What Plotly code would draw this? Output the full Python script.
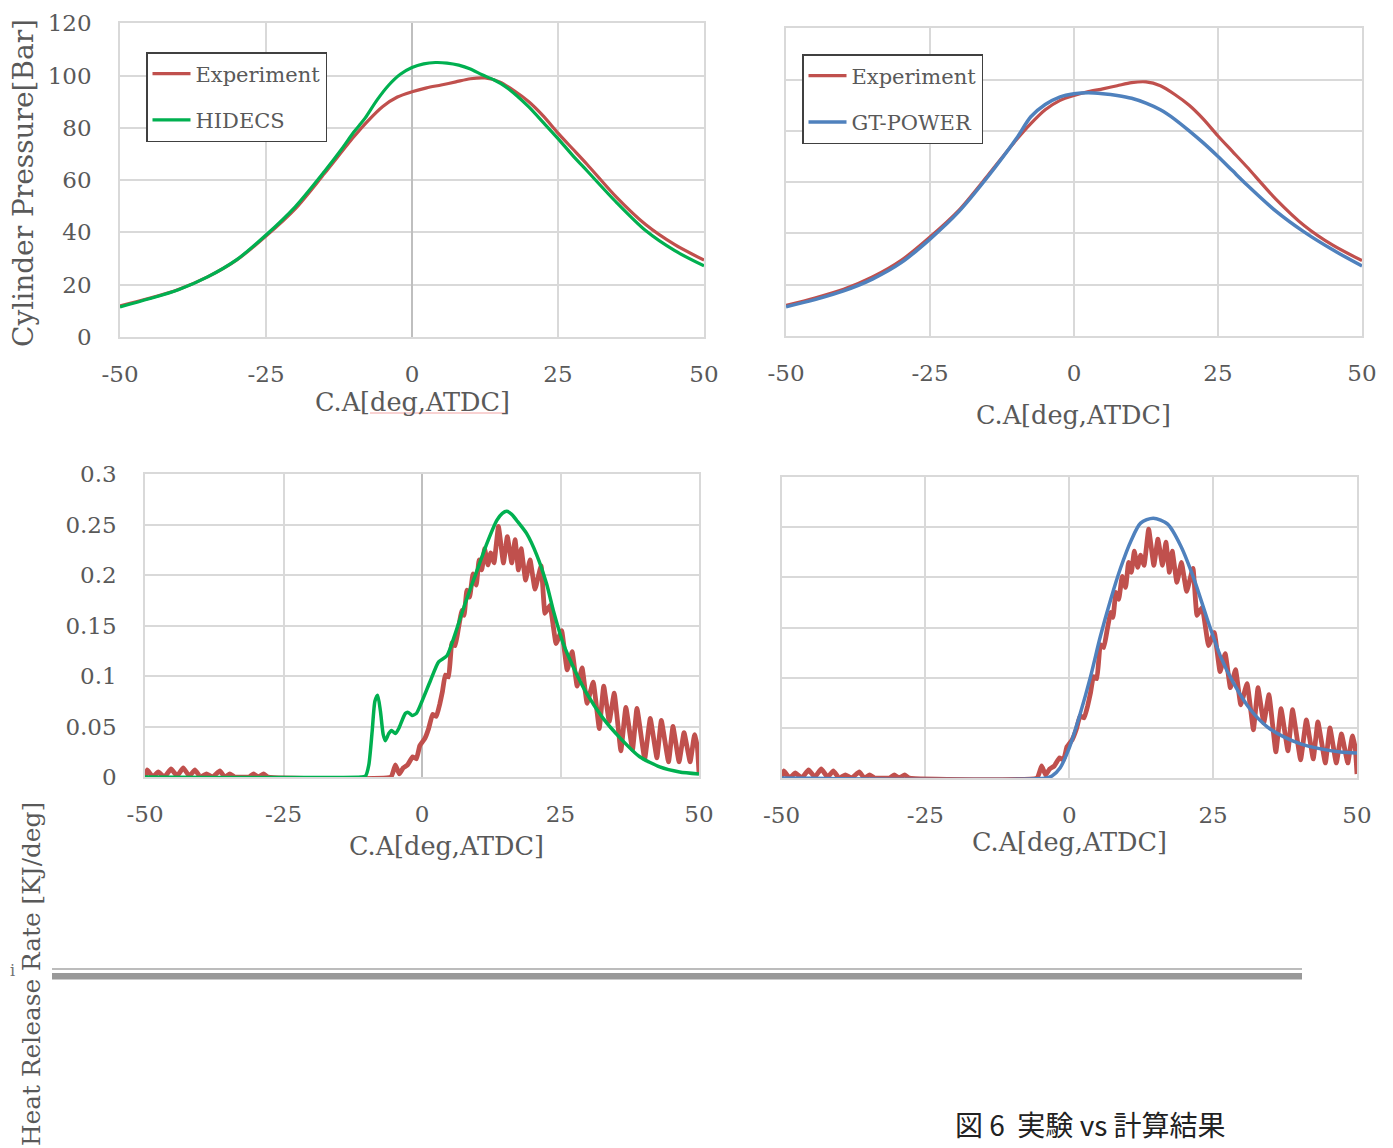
import plotly.graph_objects as go

# page body has an 8px margin: the figure is drawn at (8, 8) on screen
OFF = 8
W, H = 1393 - OFF, 1148 - OFF

# ---------------- data ----------------
ca_ticks = [-50, -25, 0, 25, 50]
ca_tick_text = ["-50", "-25", "0", "25", "50"]

# Cylinder pressure [bar]
p_exp_ca = [-50, -45, -40, -35, -30, -25, -20, -15, -10, -7.5, -5, -2.5, 0, 2.5, 5, 7.5,
            10, 12.5, 15, 17.5, 20, 22.5, 25, 27.5, 30, 35, 40, 45, 50]
p_exp = [11.9, 14.8, 18.2, 23.0, 29.5, 38.6, 49.0, 62.5, 76.5, 82.8, 88.2, 91.8, 93.8, 95.3, 96.4, 97.6,
         98.8, 99.1, 97.6, 94.2, 90.0, 84.5, 78.0, 72.0, 66.0, 53.5, 43.0, 35.3, 29.4]

p_hidecs_ca = [-50, -45, -40, -35, -30, -25, -20, -15, -12, -10, -9, -8, -6, -4, -2, 0, 2, 4, 6, 8,
               10, 12, 14, 16, 18, 20, 22.5, 25, 27.5, 30, 35, 40, 45, 50]
p_hidecs = [11.5, 14.6, 18.1, 23.0, 29.6, 39.0, 49.8, 63.3, 72.0, 78.3, 81.0, 83.8, 90.6, 96.3, 100.5, 103.1,
            104.5, 105.0, 104.8, 104.0, 102.5, 100.3, 98.4, 95.8, 92.2, 88.0, 82.0, 75.9, 69.5, 63.5,
            51.5, 40.7, 33.0, 27.2]

p_gt_ca = [-50, -45, -40, -35, -30, -25, -20, -15, -10, -7.5, -5, -2.5, 0, 2.5, 5, 7.5,
           10, 12.5, 15, 17.5, 20, 22.5, 25, 27.5, 30, 35, 40, 45, 50]
p_gt = [11.4, 14.2, 17.6, 22.2, 28.6, 37.8, 48.5, 62.0, 77.0, 85.5, 90.3, 93.2, 94.5, 94.9, 94.5, 93.8,
        92.7, 90.8, 88.2, 84.5, 80.0, 75.2, 70.0, 64.5, 59.0, 48.8, 40.5, 33.5, 27.3]

# Heat release rate [kJ/deg]
hrr_exp_ca = [-50, -49.6, -48.6, -47.6, -46.5, -45.3, -44.2, -43.1, -42.0, -41.0, -40.0, -38.9, -37.8,
              -36.5, -35.6, -34.7, -33.8, -31.2, -30.4, -29.6, -28.6, -27.8, -5.6, -4.8, -4.1, -3.4,
              -2.6, -1.7, -1.0, -0.4, 0.5, 1.2, 1.9, 2.6, 3.2, 3.7, 4.2, 4.8, 5.4, 6.0, 6.6, 7.2, 7.6,
              8.1, 8.6, 9.2, 9.8, 10.3, 10.8, 11.3, 11.9, 12.4, 13.0, 13.8, 14.7, 15.4, 16.2, 16.8,
              17.4, 17.9, 18.7, 19.5, 20.4, 21.5, 22.2, 23.1, 24.2, 25.2, 26.2, 27.1, 28.0, 28.9,
              29.8, 30.9, 32.0, 32.8, 33.8, 34.7, 35.9, 36.8, 38.0, 38.8, 40.2, 41.2, 42.4, 43.2,
              44.5, 45.3, 46.4, 47.3, 48.4, 49.2, 49.7, 50.0]
hrr_exp = [0.0, 0.007, 0.0, 0.005, 0.0, 0.008, 0.001, 0.009, 0.001, 0.007, 0.0, 0.003, 0.0,
           0.006, 0.0, 0.003, 0.0, 0.0, 0.003, 0.0, 0.003, 0.0, 0.0, 0.012, 0.003, 0.009,
           0.012, 0.020, 0.018, 0.031, 0.038, 0.048, 0.062, 0.060, 0.072, 0.085, 0.101, 0.099, 0.133,
           0.130, 0.148, 0.165, 0.160, 0.185, 0.178, 0.201, 0.190, 0.215, 0.205, 0.226, 0.210, 0.222,
           0.212, 0.248, 0.212, 0.238, 0.212, 0.235, 0.205, 0.226, 0.195, 0.215, 0.186, 0.209, 0.162,
           0.170, 0.132, 0.145, 0.106, 0.124, 0.090, 0.108, 0.073, 0.094, 0.048, 0.090, 0.055, 0.083,
           0.026, 0.069, 0.027, 0.068, 0.018, 0.058, 0.019, 0.056, 0.015, 0.050, 0.015, 0.044, 0.015,
           0.042, 0.030, 0.004]

hrr_hidecs_ca = [-50, -11, -10.2, -9.6, -9.0, -8.5, -8.0, -7.5, -7.0, -6.6, -6.0, -5.5, -4.8, -4.2,
                 -3.6, -3.0, -2.5, -1.8, -1.0, 0, 1.5, 3.0, 4.5, 6.0, 7.8, 9.9, 11.7, 13.5, 14.5,
                 15.3, 16.2, 17.1, 18.9, 20.7, 22.5, 23.7, 25.5, 27.3, 29.7, 32.7, 35.7, 39.3,
                 42.9, 46.5, 50]
hrr_hidecs = [0.0, 0.0, 0.001, 0.012, 0.045, 0.075, 0.081, 0.065, 0.042, 0.036, 0.043, 0.046, 0.043,
              0.048, 0.056, 0.063, 0.064, 0.061, 0.063, 0.075, 0.095, 0.114, 0.120, 0.142, 0.172,
              0.204, 0.231, 0.254, 0.261, 0.263, 0.260, 0.254, 0.241, 0.220, 0.191, 0.165, 0.132,
              0.109, 0.083, 0.058, 0.039, 0.020, 0.010, 0.005, 0.003]

hrr_gt_ca = [-50, -4.0, -3.0, -1.6, 0, 1.9, 3.7, 5.4, 7.2, 8.9, 10.7, 12.4, 14.6, 17.1, 19.4, 21.7,
             24.0, 26.3, 28.6, 31.5, 34.4, 37.3, 40.2, 43.7, 47.1, 50]
hrr_gt = [0.0, 0.0, 0.002, 0.010, 0.030, 0.064, 0.101, 0.141, 0.178, 0.209, 0.236, 0.254, 0.259,
          0.253, 0.231, 0.198, 0.158, 0.121, 0.094, 0.068, 0.051, 0.041, 0.034, 0.029, 0.026, 0.025]

# ---------------- style ----------------
RED = "#C0504D"
GREEN = "#00B050"
BLUE = "#4F81BD"
GRID = "#D9D9D9"
TXT = "#595959"
SERIF = "DejaVu Serif"


def fx(px):
    return (px - OFF) / W


def fy(py):
    return 1 - (py - OFF) / H


def dom_x(a, b):
    return [fx(a), fx(b)]


def dom_y(top, bottom):
    return [fy(bottom), fy(top)]


def xax(domain, anchor, zero):
    return dict(domain=domain, anchor=anchor, range=[-50, 50], tickvals=ca_ticks, ticktext=ca_tick_text,
                showgrid=True, gridcolor=GRID, gridwidth=1.5,
                zeroline=zero, zerolinecolor="#BFBFBF", zerolinewidth=1.5,
                showline=True, linecolor=GRID, linewidth=1.5, mirror=True,
                ticks="", ticklabelstandoff=16, automargin=False,
                tickfont=dict(family=SERIF, size=23, color=TXT), fixedrange=True)


def yax(domain, anchor, rng, dtick, labels):
    return dict(domain=domain, anchor=anchor, range=rng, tick0=0, dtick=dtick,
                showgrid=True, gridcolor=GRID, gridwidth=1.5, zeroline=False,
                showline=True, linecolor=GRID, linewidth=1.5, mirror=True,
                showticklabels=labels, ticks="", ticklabelstandoff=22, automargin=False,
                tickfont=dict(family=SERIF, size=23, color=TXT), fixedrange=True)


fig = go.Figure()

# top-left: pressure, Experiment vs HIDECS
fig.add_trace(go.Scatter(x=p_exp_ca, y=p_exp, name="Experiment", mode="lines",
                         line=dict(color=RED, width=3.2, shape="spline", smoothing=0.8),
                         xaxis="x", yaxis="y", legend="legend", legendgroup="a1"))
fig.add_trace(go.Scatter(x=p_hidecs_ca, y=p_hidecs, name="HIDECS", mode="lines",
                         line=dict(color=GREEN, width=3.2, shape="spline", smoothing=0.8),
                         xaxis="x", yaxis="y", legend="legend", legendgroup="a2"))
# top-right: pressure, Experiment vs GT-POWER
fig.add_trace(go.Scatter(x=p_exp_ca, y=p_exp, name="Experiment", mode="lines",
                         line=dict(color=RED, width=3.2, shape="spline", smoothing=0.8),
                         xaxis="x2", yaxis="y2", legend="legend2", legendgroup="b1"))
fig.add_trace(go.Scatter(x=p_gt_ca, y=p_gt, name="GT-POWER", mode="lines",
                         line=dict(color=BLUE, width=3.5, shape="spline", smoothing=0.8),
                         xaxis="x2", yaxis="y2", legend="legend2", legendgroup="b2"))
# bottom-left: heat release, Experiment vs HIDECS
fig.add_trace(go.Scatter(x=hrr_exp_ca, y=hrr_exp, name="Experiment", mode="lines", showlegend=False,
                         line=dict(color=RED, width=4.8, shape="spline", smoothing=0.3),
                         xaxis="x3", yaxis="y3"))
fig.add_trace(go.Scatter(x=hrr_hidecs_ca, y=hrr_hidecs, name="HIDECS", mode="lines", showlegend=False,
                         line=dict(color=GREEN, width=3.5, shape="spline", smoothing=0.6),
                         xaxis="x3", yaxis="y3"))
# bottom-right: heat release, Experiment vs GT-POWER
fig.add_trace(go.Scatter(x=hrr_exp_ca, y=hrr_exp, name="Experiment", mode="lines", showlegend=False,
                         line=dict(color=RED, width=4.8, shape="spline", smoothing=0.3),
                         xaxis="x4", yaxis="y4"))
fig.add_trace(go.Scatter(x=hrr_gt_ca, y=hrr_gt, name="GT-POWER", mode="lines", showlegend=False,
                         line=dict(color=BLUE, width=3.5, shape="spline", smoothing=0.8),
                         xaxis="x4", yaxis="y4"))

legend_style = dict(xanchor="left", yanchor="top", bgcolor="white", bordercolor="#404040",
                    borderwidth=1.5, font=dict(family=SERIF, size=21, color=TXT),
                    tracegroupgap=16, itemwidth=38)

ann_font = dict(family=SERIF, size=25.5, color=TXT)
annotations = [
    dict(text="C.A[deg,ATDC]", x=fx(412), y=fy(402), font=ann_font),
    dict(text="C.A[deg,ATDC]", x=fx(1073), y=fy(415), font=ann_font),
    dict(text="C.A[deg,ATDC]", x=fx(446), y=fy(846), font=ann_font),
    dict(text="C.A[deg,ATDC]", x=fx(1069), y=fy(842), font=ann_font),
    dict(text="Cylinder Pressure[Bar]", x=fx(23), y=fy(183), textangle=-90,
         font=dict(family=SERIF, size=28, color=TXT)),
    dict(text="Heat Release Rate [KJ/deg]", x=fx(31), y=fy(974), textangle=-90,
         font=dict(family=SERIF, size=24.8, color=TXT)),
    dict(text="i", x=0, y=fy(970), xanchor="left", font=dict(family=SERIF, size=16, color="#707070")),
    dict(text="図 6  実験 vs 計算結果", x=fx(1090), y=fy(1124),
         font=dict(family="Noto Sans CJK JP", size=28, color="#222222")),
]
for a in annotations:
    a.setdefault("xanchor", "center")
    a.update(xref="paper", yref="paper", showarrow=False, yanchor="middle")

shapes = [
    dict(type="line", xref="paper", yref="paper", x0=fx(52), x1=fx(1302), y0=fy(969), y1=fy(969),
         line=dict(color="#A6A6A6", width=1.7)),
    dict(type="line", xref="paper", yref="paper", x0=fx(52), x1=fx(1302), y0=fy(976.2), y1=fy(976.2),
         line=dict(color="#999999", width=6.5)),
    dict(type="line", xref="paper", yref="paper", x0=fx(370), x1=fx(505), y0=fy(413), y1=fy(413),
         line=dict(color="#F2A5A5", width=1)),
]

fig.update_layout(
    width=W, height=H, margin=dict(l=0, r=0, t=0, b=0, pad=0, autoexpand=False),
    paper_bgcolor="white", plot_bgcolor="white",
    xaxis=xax(dom_x(120, 704), "y", True),
    yaxis=yax(dom_y(23.3, 337), "x", [0, 120], 20, True),
    xaxis2=xax(dom_x(786, 1362), "y2", False),
    yaxis2=yax(dom_y(28.3, 336), "x2", [0, 120], 20, False),
    xaxis3=xax(dom_x(145, 699), "y3", True),
    yaxis3=yax(dom_y(474, 777), "x3", [0, 0.3], 0.05, True),
    xaxis4=xax(dom_x(781.5, 1357), "y4", False),
    yaxis4=yax(dom_y(477, 778), "x4", [0, 0.3], 0.05, False),
    legend=dict(x=fx(146), y=fy(52), **legend_style),
    legend2=dict(x=fx(802), y=fy(54), **legend_style),
    annotations=annotations,
    shapes=shapes,
    showlegend=True,
)

fig.write_html("out.html", config={"displayModeBar": False})
